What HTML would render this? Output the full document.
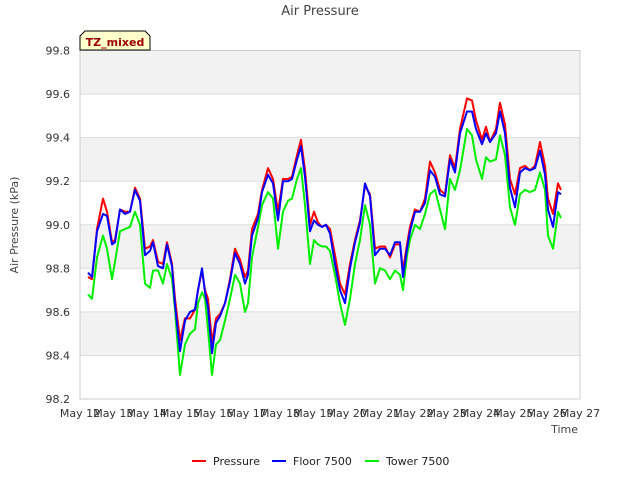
<!DOCTYPE html>
<html><head><meta charset="utf-8"><style>
body{margin:0;background:#fff;font-family:"Liberation Sans",sans-serif}
svg text{font-family:"DejaVu Sans","Liberation Sans",sans-serif}
</style></head><body>
<svg id="c" width="640" height="480" xmlns="http://www.w3.org/2000/svg">
<text x="320" y="15" text-anchor="middle" font-size="13" fill="#444">Air Pressure</text>
<g id="plot"></g>
<text transform="translate(18,225) rotate(-90)" text-anchor="middle" font-size="11" fill="#444">Air Pressure (kPa)</text>
<text x="578" y="433" text-anchor="end" font-size="11" fill="#444">Time</text>
<g>
<path d="M80,50 L80,36 L85,31 L145,31 L150,36 L150,50 Z" fill="#ffffcc" stroke="#000" stroke-width="1"/>
<text x="115" y="46" text-anchor="middle" font-size="11" font-weight="bold" fill="#990000">TZ_mixed</text>
</g>
<g>
<g><line x1="192" y1="461" x2="206" y2="461" stroke="#ff0000" stroke-width="2"/><text x="213" y="465" font-size="11" fill="#222">Pressure</text></g>
<g><line x1="272" y1="461" x2="286" y2="461" stroke="#0000ff" stroke-width="2"/><text x="293" y="465" font-size="11" fill="#222">Floor 7500</text></g>
<g><line x1="365" y1="461" x2="379" y2="461" stroke="#00ee00" stroke-width="2"/><text x="386" y="465" font-size="11" fill="#222">Tower 7500</text></g>
</g>
</svg>
<script>
const days=[0.24,0.36,0.51,0.69,0.81,0.96,1.05,1.20,1.35,1.50,1.65,1.80,1.95,2.10,2.19,2.34,2.49,2.61,2.76,2.85,3.00,3.15,3.30,3.45,3.54,3.66,3.75,3.84,3.96,4.08,4.20,4.35,4.50,4.65,4.80,4.95,5.04,5.16,5.34,5.46,5.64,5.79,5.94,6.09,6.24,6.36,6.51,6.63,6.75,6.90,7.02,7.14,7.26,7.38,7.50,7.65,7.80,7.95,8.10,8.25,8.40,8.55,8.70,8.85,9.00,9.15,9.30,9.45,9.60,9.69,9.81,9.90,10.05,10.20,10.35,10.50,10.65,10.80,10.95,11.10,11.25,11.40,11.61,11.76,11.88,12.06,12.18,12.30,12.48,12.60,12.75,12.90,13.05,13.20,13.35,13.50,13.65,13.80,13.95,14.04,14.19,14.34,14.43];
const pressure=[98.76,98.75,98.98,99.12,99.06,98.92,98.93,99.07,99.06,99.06,99.17,99.12,98.89,98.90,98.93,98.83,98.82,98.92,98.82,98.66,98.47,98.57,98.57,98.61,98.70,98.79,98.70,98.66,98.46,98.57,98.59,98.64,98.75,98.89,98.84,98.76,98.79,98.98,99.05,99.16,99.26,99.21,99.06,99.21,99.21,99.22,99.32,99.39,99.25,99.00,99.06,99.01,98.99,99.00,98.98,98.86,98.73,98.68,98.82,98.93,99.02,99.18,99.14,98.89,98.90,98.90,98.85,98.91,98.91,98.79,98.91,98.99,99.07,99.06,99.12,99.29,99.24,99.16,99.14,99.32,99.26,99.44,99.58,99.57,99.48,99.39,99.45,99.38,99.44,99.56,99.46,99.21,99.14,99.26,99.27,99.25,99.27,99.38,99.27,99.12,99.05,99.19,99.16];
const floor7500=[98.78,98.76,98.97,99.05,99.04,98.91,98.92,99.07,99.05,99.06,99.16,99.11,98.86,98.88,98.92,98.81,98.80,98.91,98.81,98.63,98.42,98.56,98.60,98.61,98.70,98.80,98.69,98.62,98.41,98.55,98.58,98.64,98.74,98.87,98.82,98.73,98.77,98.95,99.03,99.15,99.23,99.19,99.02,99.20,99.20,99.21,99.30,99.36,99.22,98.97,99.02,99.00,98.99,99.00,98.96,98.82,98.70,98.64,98.80,98.92,99.01,99.19,99.13,98.86,98.89,98.89,98.86,98.92,98.92,98.76,98.89,98.97,99.06,99.06,99.10,99.25,99.22,99.14,99.13,99.30,99.24,99.42,99.52,99.52,99.44,99.37,99.42,99.38,99.42,99.52,99.42,99.17,99.08,99.24,99.26,99.25,99.26,99.34,99.23,99.07,98.99,99.15,99.14];
const tower7500=[98.68,98.66,98.85,98.95,98.89,98.75,98.83,98.97,98.98,98.99,99.06,99.00,98.73,98.71,98.79,98.79,98.73,98.82,98.75,98.61,98.31,98.45,98.50,98.52,98.64,98.69,98.66,98.52,98.31,98.45,98.47,98.56,98.66,98.77,98.73,98.60,98.64,98.85,98.99,99.09,99.15,99.12,98.89,99.06,99.11,99.12,99.21,99.26,99.09,98.82,98.93,98.91,98.90,98.90,98.88,98.77,98.64,98.54,98.66,98.82,98.93,99.09,99.00,98.73,98.80,98.79,98.75,98.79,98.77,98.70,98.86,98.93,99.00,98.98,99.05,99.14,99.16,99.07,98.98,99.21,99.16,99.25,99.44,99.41,99.30,99.21,99.31,99.29,99.30,99.41,99.32,99.08,99.00,99.14,99.16,99.15,99.16,99.24,99.16,98.95,98.89,99.06,99.03];
const yTicks=[98.2,98.4,98.6,98.8,99.0,99.2,99.4,99.6,99.8];
const xTicks=["May 12","May 13","May 14","May 15","May 16","May 17","May 18","May 19","May 20","May 21","May 22","May 23","May 24","May 25","May 26","May 27"];
const X0=80,X1=580,Y0=399,Y1=50.5;
const xs=d=>X0+d*(X1-X0)/15;
const ys=v=>Y0-(v-98.2)*(Y0-Y1)/1.6;
const NS="http://www.w3.org/2000/svg";
const plot=document.getElementById('plot');
function mk(tag,attrs,parent){const e=document.createElementNS(NS,tag);for(const k in attrs)e.setAttribute(k,attrs[k]);(parent||plot).appendChild(e);return e;}
mk('rect',{x:X0,y:Y1,width:X1-X0,height:Y0-Y1,fill:'#fff'});
for(let i=0;i<yTicks.length-1;i++){
  if(i%2===1){const b=mk('rect',{x:X0,y:ys(yTicks[i+1]),width:X1-X0,height:ys(yTicks[i])-ys(yTicks[i+1]),fill:'#f2f2f2'});
  
  }
}
yTicks.forEach(v=>{
  const l=mk('line',{x1:X0,x2:X1,y1:ys(v),y2:ys(v),stroke:'#dddddd','stroke-width':1});
  
  
  const t=mk('text',{x:X0-10,y:ys(v)+4,'text-anchor':'end','font-size':11,fill:'#333'});
  t.textContent=v.toFixed(1);
  
  
});
xTicks.forEach((s,i)=>{
  const t=mk('text',{x:xs(i),y:Y0+18,'text-anchor':'middle','font-size':11,fill:'#333'});
  t.textContent=s;
  
  
});
mk('rect',{x:X0,y:Y1,width:X1-X0,height:Y0-Y1,fill:'none',stroke:'#cccccc'});
function series(vals,color,name){
  const n=Math.min(vals.length,days.length);
  const pts=[];for(let i=0;i<n;i++)pts.push(xs(days[i]).toFixed(1)+','+ys(vals[i]).toFixed(1));
  const p=mk('polyline',{points:pts.join(' '),fill:'none',stroke:color,'stroke-width':2,'stroke-linejoin':'round'});
  
  
}
series(tower7500,'#00ee00','tower-7500-line');
series(pressure,'#ff0000','pressure-line');
series(floor7500,'#0000ff','floor-7500-line');
</script>
</body></html>
